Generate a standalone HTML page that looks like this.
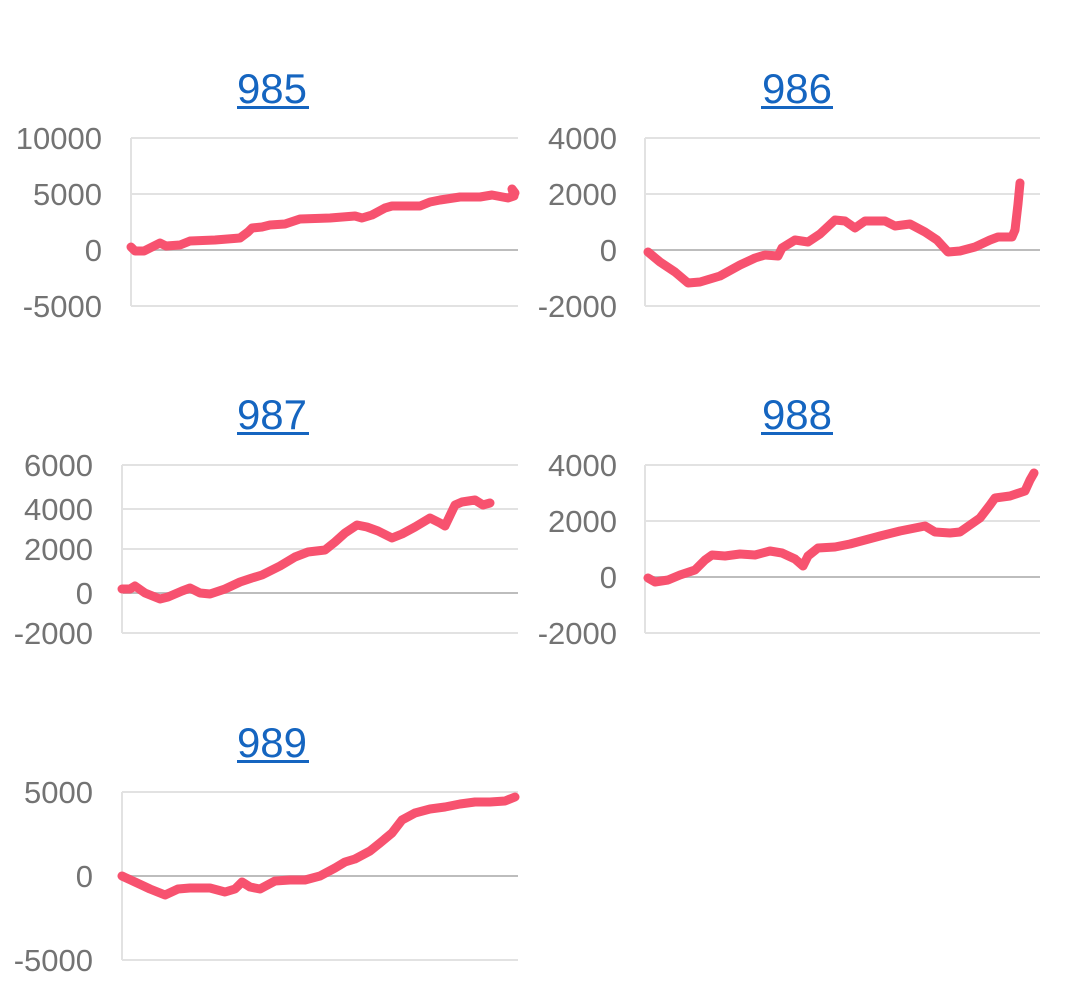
<!DOCTYPE html>
<html><head><style>
body{margin:0;background:#fff;}
svg text{font-family:"Liberation Sans",Roboto,sans-serif;}
.t{fill:#1565c0;font-size:42px;text-anchor:middle;}
.l{fill:#737373;font-size:31px;text-anchor:end;}
.g{stroke:#e2e2e2;stroke-width:2;}
.z{stroke:#bdbdbd;stroke-width:2;}
.s{fill:none;stroke:#f7526f;stroke-width:9;stroke-linejoin:round;stroke-linecap:round;}
</style></head><body>
<svg width="1080" height="995" viewBox="0 0 1080 995">
<!-- 985 -->
<text class="t" x="272" y="103">985</text><rect x="237" y="106" width="72" height="3" fill="#1565c0"/>
<line class="g" x1="131" x2="518" y1="138" y2="138"/><line class="g" x1="131" x2="518" y1="194" y2="194"/><line class="z" x1="131" x2="518" y1="250" y2="250"/><line class="g" x1="131" x2="518" y1="306" y2="306"/><line class="g" x1="131" x2="131" y1="138" y2="306"/>
<text class="l" x="102" y="149">10000</text><text class="l" x="102" y="205">5000</text><text class="l" x="102" y="261">0</text><text class="l" x="102" y="317">-5000</text>
<polyline class="s" points="131,247 135,251 144,251 150,248 160,243 166,246 180,245 190,241 215,240 240,238 248,232 252,228 262,227 270,225 285,224 300,219 330,218 355,216 362,218 372,215 385,208 392,206 420,206 430,202 440,200 460,197 480,197 492,195 508,198 514,196 512,189 515,193"/>
<!-- 986 -->
<text class="t" x="797" y="103">986</text><rect x="761" y="106" width="72" height="3" fill="#1565c0"/>
<line class="g" x1="645" x2="1040" y1="138" y2="138"/><line class="g" x1="645" x2="1040" y1="194" y2="194"/><line class="z" x1="645" x2="1040" y1="250" y2="250"/><line class="g" x1="645" x2="1040" y1="306" y2="306"/><line class="g" x1="645" x2="645" y1="138" y2="306"/>
<text class="l" x="617" y="149">4000</text><text class="l" x="617" y="205">2000</text><text class="l" x="617" y="261">0</text><text class="l" x="617" y="317">-2000</text>
<polyline class="s" points="648,252 660,262 675,272 688,283 700,282 720,276 740,265 755,258 765,255 778,256 782,248 795,240 808,242 820,234 835,220 845,221 855,228 865,221 885,221 895,226 910,224 925,232 937,240 948,252 960,251 975,247 990,240 998,237 1012,237 1015,230 1018,204 1020,183"/>
<!-- 987 -->
<text class="t" x="272" y="429">987</text><rect x="237" y="432" width="72" height="3" fill="#1565c0"/>
<line class="g" x1="122" x2="518" y1="465" y2="465"/><line class="g" x1="122" x2="518" y1="509" y2="509"/><line class="g" x1="122" x2="518" y1="549" y2="549"/><line class="z" x1="122" x2="518" y1="593" y2="593"/><line class="g" x1="122" x2="518" y1="633" y2="633"/><line class="g" x1="122" x2="122" y1="465" y2="633"/>
<text class="l" x="93" y="476">6000</text><text class="l" x="93" y="520">4000</text><text class="l" x="93" y="560">2000</text><text class="l" x="93" y="604">0</text><text class="l" x="93" y="644">-2000</text>
<polyline class="s" points="122,589 130,589 135,586 145,593 160,599 168,597 182,591 190,588 200,593 210,594 225,589 240,582 252,578 262,575 280,566 295,557 308,552 325,550 335,542 345,533 357,525 367,527 378,531 392,538 402,534 415,527 430,518 440,523 445,526 455,505 462,502 475,500 483,505 490,503"/>
<!-- 988 -->
<text class="t" x="797" y="429">988</text><rect x="761" y="432" width="72" height="3" fill="#1565c0"/>
<line class="g" x1="645" x2="1040" y1="465" y2="465"/><line class="g" x1="645" x2="1040" y1="521" y2="521"/><line class="z" x1="645" x2="1040" y1="577" y2="577"/><line class="g" x1="645" x2="1040" y1="633" y2="633"/><line class="g" x1="645" x2="645" y1="465" y2="633"/>
<text class="l" x="617" y="476">4000</text><text class="l" x="617" y="532">2000</text><text class="l" x="617" y="588">0</text><text class="l" x="617" y="644">-2000</text>
<polyline class="s" points="648,578 655,582 668,580 680,575 695,570 705,560 712,555 725,556 740,554 755,555 770,551 782,553 795,559 803,566 808,556 818,548 835,547 850,544 865,540 880,536 900,531 915,528 925,526 935,532 950,533 960,532 970,525 980,518 990,505 995,498 1010,496 1025,491 1030,480 1034,473"/>
<!-- 989 -->
<text class="t" x="272" y="757">989</text><rect x="237" y="760" width="72" height="3" fill="#1565c0"/>
<line class="g" x1="122" x2="518" y1="792" y2="792"/><line class="z" x1="122" x2="518" y1="876" y2="876"/><line class="g" x1="122" x2="518" y1="960" y2="960"/><line class="g" x1="122" x2="122" y1="792" y2="960"/>
<text class="l" x="93" y="803">5000</text><text class="l" x="93" y="887">0</text><text class="l" x="93" y="971">-5000</text>
<polyline class="s" points="122,876 135,882 150,889 165,895 178,889 190,888 210,888 225,892 235,889 242,882 250,887 260,889 275,881 290,880 305,880 320,876 335,868 345,862 355,859 370,851 380,843 392,833 402,820 415,813 430,809 445,807 460,804 475,802 490,802 505,801 515,797"/>
</svg>
</body></html>
